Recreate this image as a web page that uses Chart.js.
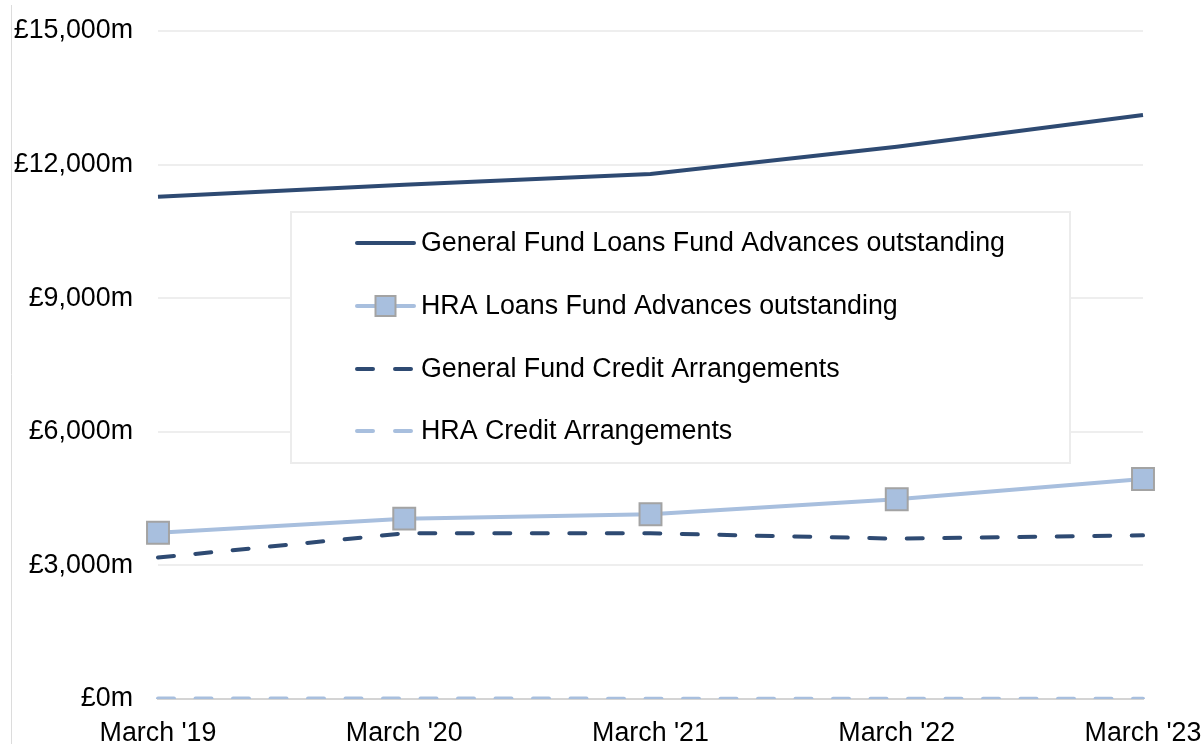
<!DOCTYPE html>
<html>
<head>
<meta charset="utf-8">
<script src="https://cdn.jsdelivr.net/npm/chart.js@4"></script>
<style>
    html, body { margin: 0; padding: 0; background: #ffffff; }
    #wrap { width: 1203px; height: 744px; }
</style>
</head>
<body>
<div id="wrap"><canvas id="loansChart" width="1203" height="744"></canvas></div>
<script>
// Categories and series (values in £m)
const years = ["March '19", "March '20", "March '21", "March '22", "March '23"];
const gfLoans = [11280, 11545, 11790, 12400, 13115];
const hraLoans = [3735, 4050, 4150, 4485, 4940];
const gfCredit = [3175, 3720, 3720, 3600, 3675];
const hraCredit = [10, 10, 8, 6, 4];
const yTicks = [0, 3000, 6000, 9000, 12000, 15000];

const navy = '#2e4a72';
const lightBlue = '#a8bfde';
const fontFamily = '"Liberation Sans", Arial, sans-serif';
const fontSize = 26.8;

// Left border line + boxed legend sitting inside the plot
const legendBox = {
    id: 'legendBox',
    beforeDraw(chart) {
        const ctx = chart.ctx;
        ctx.save();
        ctx.strokeStyle = '#dcdcdc';
        ctx.lineWidth = 1;
        ctx.beginPath();
        ctx.moveTo(11.5, 5);
        ctx.lineTo(11.5, chart.height);
        ctx.stroke();
        ctx.restore();
    },
    afterDraw(chart) {
        const ctx = chart.ctx;
        const box = { x: 291, y: 212, w: 779, h: 251 };
        const rowY = [243, 306, 369, 431];
        ctx.save();
        ctx.fillStyle = '#ffffff';
        ctx.fillRect(box.x, box.y, box.w, box.h);
        ctx.strokeStyle = '#ececec';
        ctx.lineWidth = 2;
        ctx.strokeRect(box.x, box.y, box.w, box.h);

        chart.data.datasets.forEach((ds, i) => {
            const y = rowY[i];
            const x0 = 355, x1 = 416;
            ctx.strokeStyle = ds.borderColor;
            ctx.lineWidth = ds.borderWidth;
            ctx.lineCap = 'round';
            ctx.setLineDash(ds.borderDash && ds.borderDash.length ? [16, 22] : []);
            ctx.beginPath();
            ctx.moveTo(x0 + 2, y);
            ctx.lineTo(x1 - 2, y);
            ctx.stroke();
            ctx.setLineDash([]);
            if (ds.pointStyle === 'rect' && ds.pointRadius > 0) {
                const s = 20;
                const cx = (x0 + x1) / 2;
                ctx.fillStyle = ds.pointBackgroundColor;
                ctx.fillRect(cx - s / 2, y - s / 2, s, s);
                ctx.strokeStyle = ds.pointBorderColor;
                ctx.lineWidth = 2;
                ctx.strokeRect(cx - s / 2, y - s / 2, s, s);
            }
            ctx.fillStyle = '#000000';
            ctx.font = fontSize + 'px ' + fontFamily;
            ctx.textBaseline = 'middle';
            ctx.textAlign = 'left';
            ctx.fillText(ds.label, 421, y + 1);
        });
        ctx.restore();
    }
};

const ctx = document.getElementById('loansChart').getContext('2d');
new Chart(ctx, {
    type: 'line',
    data: {
        labels: years,
        datasets: [
            {
                label: 'General Fund Loans Fund Advances outstanding',
                data: gfLoans,
                borderColor: navy,
                borderWidth: 4,
                pointRadius: 0,
                tension: 0
            },
            {
                label: 'HRA Loans Fund Advances outstanding',
                data: hraLoans,
                borderColor: lightBlue,
                borderWidth: 4,
                pointStyle: 'rect',
                pointRadius: 15.5,
                pointBackgroundColor: lightBlue,
                pointBorderColor: '#a3a3a3',
                pointBorderWidth: 2,
                tension: 0
            },
            {
                label: 'General Fund Credit Arrangements',
                data: gfCredit,
                borderColor: navy,
                borderWidth: 4,
                borderDash: [16, 21.5],
                borderCapStyle: 'round',
                pointRadius: 0,
                tension: 0
            },
            {
                label: 'HRA Credit Arrangements',
                data: hraCredit,
                borderColor: lightBlue,
                borderWidth: 4,
                borderDash: [16, 21.5],
                borderCapStyle: 'round',
                pointRadius: 0,
                tension: 0
            }
        ]
    },
    options: {
        responsive: false,
        animation: false,
        devicePixelRatio: 1,
        layout: {
            padding: { top: 31, right: 60, left: 0, bottom: 0 }
        },
        plugins: {
            legend: { display: false },
            tooltip: { enabled: false }
        },
        scales: {
            x: {
                offset: false,
                afterFit: (s) => {
                    s.height = 45;
                    s.paddingLeft = 0;
                    s.paddingRight = 0;
                },
                grid: { display: false, drawTicks: false },
                border: { display: true, color: '#d4d4d4', width: 2 },
                ticks: {
                    color: '#000000',
                    padding: 19,
                    maxRotation: 0,
                    autoSkip: false,
                    font: { family: fontFamily, size: fontSize }
                }
            },
            y: {
                min: 0,
                max: 15000,
                afterFit: (s) => {
                    s.width = 158;
                    s.paddingTop = 0;
                    s.paddingBottom = 0;
                },
                afterBuildTicks: (s) => { s.ticks = yTicks.map(v => ({ value: v })); },
                grid: { color: '#eeeeee', lineWidth: 2, drawTicks: false },
                border: { display: false },
                ticks: {
                    color: '#000000',
                    padding: 25,
                    font: { family: fontFamily, size: fontSize },
                    callback: (v) => '£' + Number(v).toLocaleString('en-GB') + 'm'
                }
            }
        }
    },
    plugins: [legendBox]
});
</script>
</body>
</html>
